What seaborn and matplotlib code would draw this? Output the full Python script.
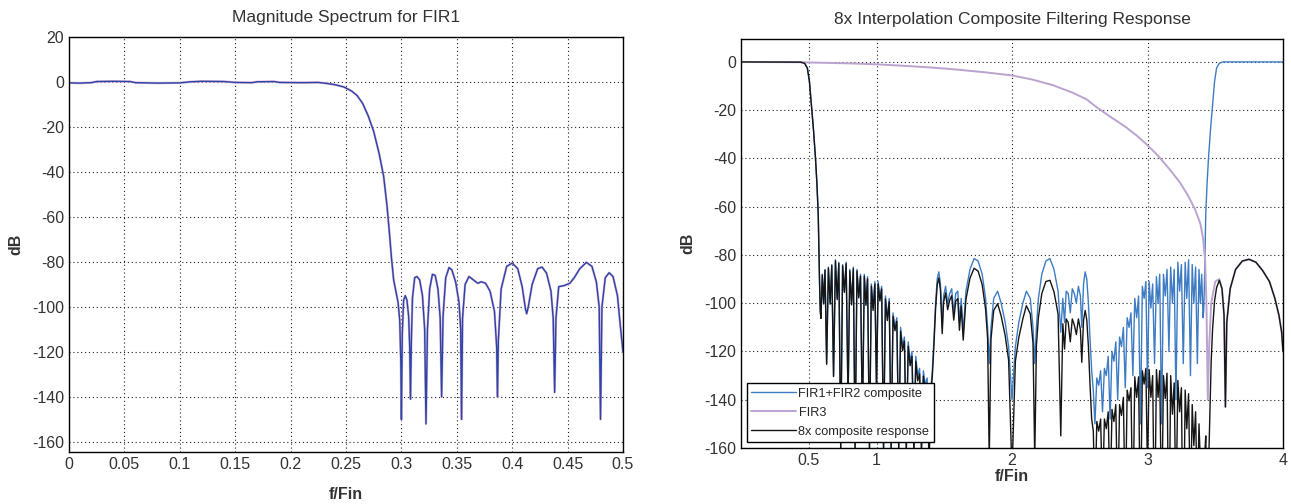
import seaborn as sns
import matplotlib.pyplot as plt

# ---- FIR1 magnitude spectrum (left) ----
fir1_f = [0.000, 0.010, 0.020, 0.025, 0.040, 0.055, 0.060, 0.080, 0.100, 0.110, 0.120, 0.140,
          0.150, 0.165, 0.170, 0.185, 0.190, 0.210, 0.225, 0.232, 0.240, 0.248, 0.255, 0.260,
          0.265, 0.270, 0.275, 0.280, 0.284, 0.287, 0.289, 0.291, 0.293, 0.295, 0.297, 0.2985,
          0.2995, 0.3000, 0.3008, 0.3020, 0.3035, 0.3050, 0.3065, 0.3075, 0.3082, 0.3090, 0.3100,
          0.3120, 0.3140, 0.3165, 0.3190, 0.3210, 0.3222, 0.3235, 0.3255, 0.3280, 0.3305, 0.3330,
          0.3350, 0.3363, 0.3376, 0.3400, 0.3430, 0.3455, 0.3490, 0.3520, 0.3535, 0.3543, 0.3552,
          0.3575, 0.3610, 0.3650, 0.3690, 0.3720, 0.3760, 0.3800, 0.3840, 0.3860, 0.3867, 0.3875,
          0.3900, 0.3950, 0.4000, 0.4050, 0.4090, 0.4120, 0.4131, 0.4145, 0.4180, 0.4230, 0.4270,
          0.4310, 0.4350, 0.4370, 0.4383, 0.4395, 0.4420, 0.4470, 0.4520, 0.4560, 0.4610, 0.4670,
          0.4720, 0.4760, 0.4785, 0.4797, 0.4810, 0.4840, 0.4875, 0.4910, 0.4950, 0.4975, 0.5000]
fir1_db = [-0.4, -0.5, -0.3, 0.2, 0.3, 0.2, -0.3, -0.5, -0.4, 0.1, 0.3, 0.2,
           -0.2, -0.3, 0.1, 0.2, -0.2, -0.3, -0.2, -0.6, -1.2, -2.2, -4.0, -6.0,
           -9.5, -15, -22, -32, -42, -55, -66, -78, -88, -93, -98, -106,
           -125, -150, -112, -97, -95, -97, -104, -118, -141, -115, -96,
           -87, -86.5, -88, -95, -110, -152, -110, -92, -85.5, -86, -92,
           -105, -140, -104, -87, -82.5, -83.5, -89, -98, -110, -150, -105,
           -90, -86.5, -88, -89.5, -88.8, -89.5, -93, -102, -118, -140, -115,
           -92, -82, -80.5, -83, -91, -101, -103, -100, -90, -83, -82.3,
           -85, -93, -105, -138, -105, -91, -90.5, -89.5, -87, -83, -80.2,
           -82, -89, -100, -150, -100, -87, -84.8, -86.5, -95, -108, -120]

# ---- 8x interpolation composite (right) ----
comp_f = [0.000, 0.440, 0.470, 0.490, 0.505, 0.520, 0.535, 0.550, 0.560, 0.570, 0.575, 0.580,
          0.585, 0.590, 0.600, 0.610, 0.620, 0.632, 0.645, 0.658, 0.670, 0.683, 0.697, 0.710,
          0.722, 0.736, 0.750, 0.763, 0.776, 0.790, 0.803, 0.816, 0.829, 0.842, 0.856, 0.869,
          0.882, 0.896, 0.910, 0.922, 0.934, 0.948, 0.962, 0.975, 0.988, 1.000, 1.012, 1.025,
          1.038, 1.052, 1.066, 1.080, 1.094, 1.108, 1.122, 1.136, 1.150, 1.164, 1.178, 1.192,
          1.206, 1.220, 1.234, 1.248, 1.262, 1.276, 1.290, 1.304, 1.318, 1.332, 1.346, 1.360,
          1.374, 1.388, 1.400, 1.412, 1.424, 1.436, 1.448, 1.460, 1.472, 1.485, 1.495, 1.510,
          1.525, 1.540, 1.555, 1.570, 1.585, 1.600, 1.612, 1.625, 1.640, 1.660, 1.690, 1.720,
          1.750, 1.780, 1.805, 1.820, 1.832, 1.845, 1.865, 1.894, 1.920, 1.950, 1.975, 2.000,
          2.025, 2.050, 2.080, 2.106, 2.135, 2.155, 2.168, 2.180, 2.195, 2.220, 2.250, 2.280,
          2.310, 2.340, 2.360, 2.375, 2.388, 2.400, 2.415, 2.430, 2.445, 2.460, 2.475, 2.490,
          2.505, 2.515, 2.528, 2.540, 2.552, 2.564, 2.576, 2.588, 2.600, 2.612, 2.626, 2.640,
          2.654, 2.668, 2.682, 2.696, 2.710, 2.724, 2.738, 2.752, 2.766, 2.780, 2.794, 2.808,
          2.822, 2.836, 2.850, 2.864, 2.878, 2.892, 2.906, 2.920, 2.934, 2.948, 2.962, 2.975,
          2.988, 3.000, 3.012, 3.025, 3.038, 3.052, 3.066, 3.078, 3.090, 3.104, 3.118, 3.131,
          3.144, 3.158, 3.171, 3.184, 3.197, 3.210, 3.224, 3.237, 3.250, 3.264, 3.278, 3.290,
          3.303, 3.317, 3.330, 3.342, 3.355, 3.368, 3.380, 3.390, 3.400, 3.410, 3.415, 3.420,
          3.425, 3.430, 3.440, 3.450, 3.465, 3.480, 3.495, 3.510, 3.530, 3.560, 4.000]
fir12_db = [0, 0, -0.5, -2.5, -8, -18, -28, -40, -50, -63, -78, -92,
            -103, -106, -88, -100, -86, -125, -85, -100, -84, -130, -82, -98,
            -83, -160, -84, -95, -83, -140, -86, -100, -85, -160, -86, -97,
            -88, -150, -88, -100, -89, -160, -92, -102, -91, -135, -91, -98,
            -93, -160, -97, -106, -98, -160, -104, -110, -106, -160, -110, -118,
            -114, -160, -116, -124, -120, -160, -122, -130, -127, -160, -128, -134,
            -131, -165, -136, -128, -115, -100, -90, -87, -92, -110, -97, -93,
            -100, -96, -94, -104, -96, -95, -108, -98, -112, -95, -86, -81.5,
            -82.5, -88, -98, -110, -125, -110, -98, -95, -100, -108, -118, -140,
            -118, -108, -100, -95, -98, -110, -125, -110, -98, -88, -82.5, -81.5,
            -86, -95, -112, -98, -108, -95, -96, -104, -94, -96, -100, -93,
            -97, -110, -92, -87, -90, -100, -115, -128, -136, -150, -131, -134,
            -128, -145, -127, -130, -122, -148, -120, -124, -116, -140, -114, -118,
            -110, -135, -106, -110, -104, -130, -98, -106, -97, -150, -93, -98,
            -91, -135, -91, -102, -92, -125, -89, -100, -88, -150, -88, -97,
            -86, -120, -85, -100, -86, -140, -83, -95, -84, -125, -83, -98,
            -82, -130, -84, -100, -85, -125, -86, -100, -88, -106, -103, -92,
            -78, -63, -50, -40, -28, -18, -8, -2.5, -0.5, 0, 0]

fir3_f = [0.00, 0.40, 0.80, 1.00, 1.20, 1.40, 1.60, 1.80, 2.00, 2.15, 2.30, 2.45, 2.55, 2.63,
          2.72, 2.84, 2.92, 3.00, 3.08, 3.17, 3.24, 3.30, 3.35, 3.39, 3.41, 3.425, 3.435, 3.445,
          3.455, 3.47, 3.50, 3.53, 3.55, 3.565, 3.575, 3.585, 3.61, 3.65, 3.70, 3.75, 3.80, 3.85,
          3.90, 3.94, 3.97, 3.99, 4.00]
fir3_db = [0, -0.1, -0.6, -1.0, -1.6, -2.3, -3.2, -4.3, -5.6, -7.3, -9.6, -12.8, -15.5, -19.0,
           -22.5, -27.0, -30.5, -34.5, -39.0, -45.0, -50.0, -55.5, -61.0, -67.0, -73.0, -82.0, -100, -140,
           -118, -100, -91, -90, -94, -105, -143, -108, -94, -86, -82.5, -81.8, -83, -86.5,
           -91, -98, -105, -112, -120]

# 8x composite shares the grid of the FIR1+FIR2 trace up to 3.43, then follows FIR3's lobes
total_f = comp_f[:206] + [3.437, 3.445, 3.455, 3.470, 3.480, 3.495, 3.510, 3.530, 3.550, 3.565,
                          3.575, 3.585, 3.610, 3.650, 3.700, 3.750, 3.800, 3.850, 3.900, 3.940,
                          3.970, 3.990, 4.000]
total_db = [0, -0.1, -0.6, -2.7, -8.2, -18.2, -28.2, -40.2, -50.2, -63.2, -78.2, -92.2,
            -103.3, -106.3, -88.3, -100.3, -86.3, -125.3, -85.4, -100.4, -84.4, -130.4, -82.4, -98.5,
            -83.5, -160.5, -84.5, -95.5, -83.6, -140.6, -86.6, -100.7, -85.7, -160.7, -86.7, -97.8,
            -88.8, -150.8, -88.8, -100.9, -89.9, -160.9, -92.9, -103, -92, -136, -92, -99.1,
            -94.1, -161, -98.2, -107.2, -99.3, -161, -105.4, -111.4, -107.5, -161, -111.6, -119.7,
            -115.7, -162, -117.8, -125.9, -122, -162, -124.1, -132.2, -129.2, -162, -130.2, -136.3,
            -133.3, -167, -138.3, -130.3, -117.3, -102.4, -92.4, -89.5, -94.5, -112.6, -99.6, -95.7,
            -102.7, -98.8, -96.9, -107, -99, -98.1, -111.2, -101.2, -115.3, -98.4, -89.6, -85.5,
            -86.7, -92.3, -102.5, -114.6, -165, -114.8, -103, -100.2, -105.3, -113.5, -123.6, -170,
            -124, -114.3, -106.5, -101, -104.4, -116.5, -165, -117.7, -105.8, -96, -91, -90.5,
            -95.3, -104.5, -155, -108.5, -119, -106.5, -108, -116, -106.5, -109, -113, -106.5,
            -111, -124.5, -107, -103, -107, -118, -134, -148, -153, -183, -149, -153,
            -148, -181, -148, -152, -145, -184, -144, -149, -142, -187, -142, -146.5,
            -139, -190, -136, -140.5, -135, -192, -130.5, -139, -130.5, -194, -128, -133.5,
            -127, -171, -127.5, -139, -130, -198, -127.5, -139, -128, -191, -130, -139.5,
            -129, -204, -130, -146, -133, -188, -132, -145, -135, -212, -136, -152,
            -137.5, -187, -142, -159, -145, -186, -150, -166, -165, -185, -190, -182,
            -160, -155, -178, -186, -158, -124, -111, -99, -93.5, -90.5, -94, -105,
            -143, -108, -94, -86, -82.5, -81.8, -83, -86.5, -91, -98, -105, -112, -120]

sns.set_theme(style='white')
plt.rcParams['font.family'] = ['Liberation Sans', 'DejaVu Sans']
plt.rcParams['axes.unicode_minus'] = False

fig = plt.figure(figsize=(12.91, 5.04), dpi=100)
ax1 = fig.add_axes([69 / 1291, 52 / 504, 554 / 1291, 415 / 504])
ax2 = fig.add_axes([741 / 1291, 56 / 504, 542 / 1291, 409 / 504])

txt = '#333333'

# left: FIR1
sns.lineplot(x=fir1_f, y=fir1_db, ax=ax1, color='#d9b3d3', linewidth=1.7, estimator=None, sort=False)
sns.lineplot(x=fir1_f, y=fir1_db, ax=ax1, color='#2a44a8', linewidth=1.0, estimator=None, sort=False)
ax1.set_xlim(0, 0.5)
ax1.set_ylim(-164.5, 20)
ax1.set_xticks([0, 0.05, 0.1, 0.15, 0.2, 0.25, 0.3, 0.35, 0.4, 0.45, 0.5],
               labels=['0', '0.05', '0.1', '0.15', '0.2', '0.25', '0.3', '0.35', '0.4', '0.45', '0.5'])
ax1.set_yticks(range(-160, 21, 20))
ax1.set_title('Magnitude Spectrum for FIR1', fontsize=12.5, color=txt, pad=11)
ax1.set_xlabel('f/Fin', fontsize=11.5, fontweight='bold', color=txt, labelpad=11)
ax1.set_ylabel('dB', fontsize=11.5, fontweight='bold', color=txt, labelpad=6)

# right: composite
sns.lineplot(x=comp_f, y=fir12_db, ax=ax2, color='#3d7cc4', linewidth=1.0, estimator=None, sort=False,
             label='FIR1+FIR2 composite')
sns.lineplot(x=fir3_f, y=fir3_db, ax=ax2, color='#bba3d0', linewidth=1.4, estimator=None, sort=False,
             label='FIR3')
sns.lineplot(x=total_f, y=total_db, ax=ax2, color='#151515', linewidth=1.0, estimator=None, sort=False,
             label='8x composite response')
ax2.set_xlim(0, 4)
ax2.set_ylim(-160, 9.5)
ax2.set_xticks([0.5, 1, 2, 3, 4], labels=['0.5', '1', '2', '3', '4'])
ax2.set_yticks(range(-160, 1, 20))
ax2.set_title('8x Interpolation Composite Filtering Response', fontsize=12.5, color=txt, pad=11)
ax2.set_xlabel('f/Fin', fontsize=11.5, fontweight='bold', color=txt, labelpad=1)
ax2.set_ylabel('dB', fontsize=11.5, fontweight='bold', color=txt, labelpad=6)
leg = ax2.legend(loc='lower left', fontsize=9.2, frameon=True, fancybox=False, framealpha=1,
                 edgecolor='black', handlelength=3.5, handletextpad=0.2, borderaxespad=0.45,
                 borderpad=0.35, labelspacing=0.55)
leg.get_frame().set_linewidth(1.0)

for ax in (ax1, ax2):
    ax.grid(True, color='#222222', linestyle=(0, (1, 2.5)), linewidth=0.8)
    ax.tick_params(direction='in', length=4, labelsize=11.5, colors='#444444', labelcolor=txt)
    for s in ax.spines.values():
        s.set_color('black')
        s.set_linewidth(1.0)

fig.savefig('out.png', dpi=100)
